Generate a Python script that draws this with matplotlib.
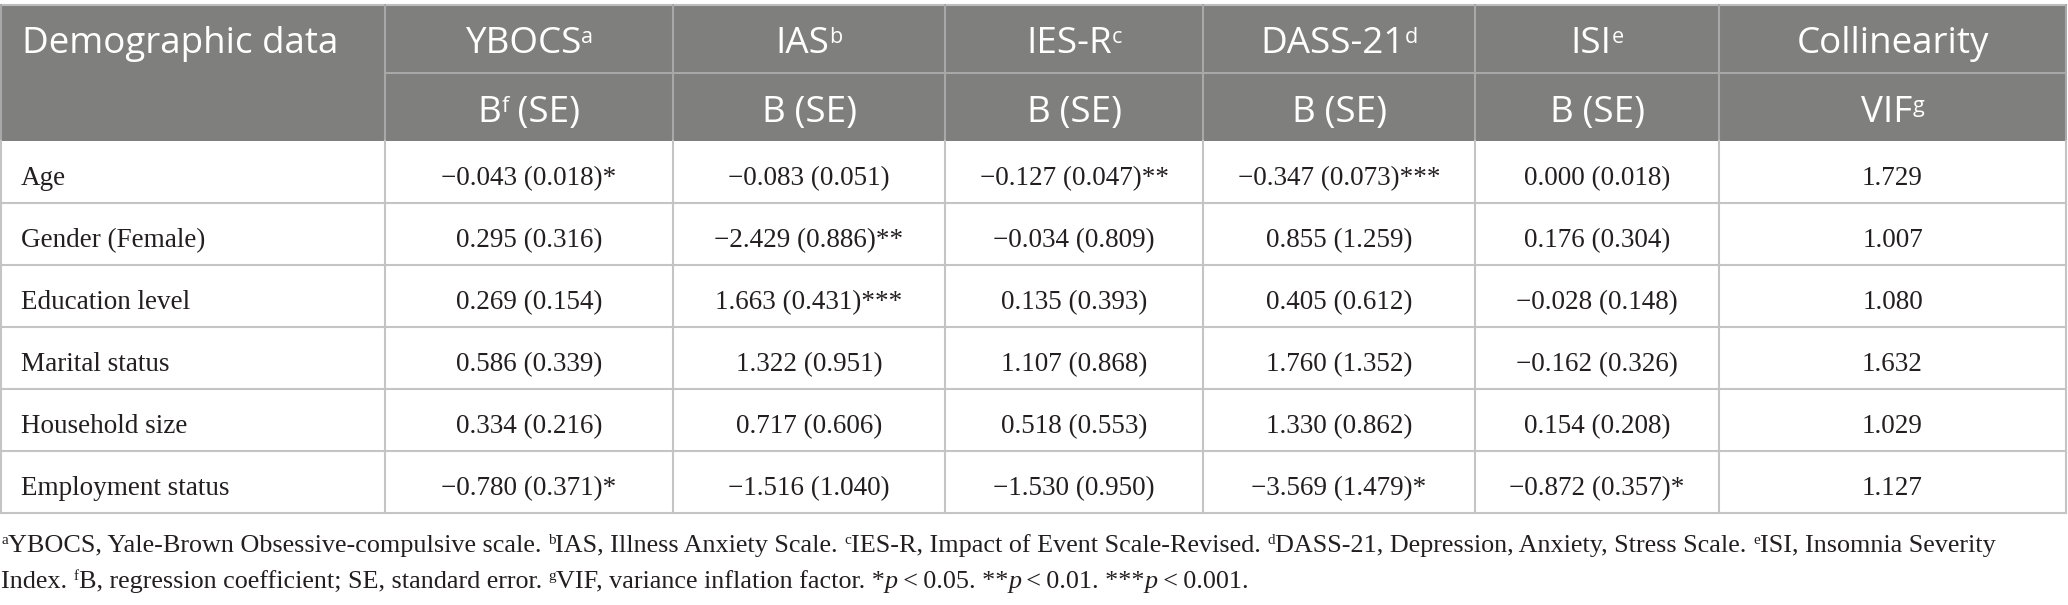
import matplotlib
matplotlib.use("Agg")
import matplotlib.pyplot as plt
from matplotlib.patches import Rectangle
from matplotlib.font_manager import FontProperties

# table content
scales = ["YBOCS", "IAS", "IES-R", "DASS-21", "ISI", "Collinearity"]
scale_sups = ["a", "b", "c", "d", "e", ""]
stat_names = ["B", "B", "B", "B", "B", "VIF"]
stat_sups = ["f", "", "", "", "", "g"]
stat_tails = [" (SE)", " (SE)", " (SE)", " (SE)", " (SE)", ""]

variables = ["Age", "Gender (Female)", "Education level", "Marital status",
             "Household size", "Employment status"]

ybocs_b = [-0.043, 0.295, 0.269, 0.586, 0.334, -0.780]
ybocs_se = [0.018, 0.316, 0.154, 0.339, 0.216, 0.371]
ybocs_sig = ["*", "", "", "", "", "*"]
ias_b = [-0.083, -2.429, 1.663, 1.322, 0.717, -1.516]
ias_se = [0.051, 0.886, 0.431, 0.951, 0.606, 1.040]
ias_sig = ["", "**", "***", "", "", ""]
iesr_b = [-0.127, -0.034, 0.135, 1.107, 0.518, -1.530]
iesr_se = [0.047, 0.809, 0.393, 0.868, 0.553, 0.950]
iesr_sig = ["**", "", "", "", "", ""]
dass_b = [-0.347, 0.855, 0.405, 1.760, 1.330, -3.569]
dass_se = [0.073, 1.259, 0.612, 1.352, 0.862, 1.479]
dass_sig = ["***", "", "", "", "", "*"]
isi_b = [0.000, 0.176, -0.028, -0.162, 0.154, -0.872]
isi_se = [0.018, 0.304, 0.148, 0.326, 0.208, 0.357]
isi_sig = ["", "", "", "", "", "*"]
vif = [1.729, 1.007, 1.080, 1.632, 1.029, 1.127]

# layout (pixels)
col_x = [1, 385, 673, 945, 1203, 1475, 1719, 2066]
top = 4.5
head_mid = 72.5
head_bot = 141
row_h = 62

head_bg = "#7f7f7e"
head_line = "#a8a8a8"
grid_col = "#c4c4c4"
ink = "#231f20"

sans = FontProperties(family="Open Sans", size=26.5)
sans_sup = FontProperties(family="Open Sans", size=15.5)
serif = FontProperties(family="Liberation Serif", size=19.5)
foot = FontProperties(family="Liberation Serif", size=18.8)
foot_sup = FontProperties(family="Liberation Serif", size=11)
foot_it = FontProperties(family="Liberation Serif", size=18.8, style="italic")

fig = plt.figure(figsize=(20.68, 6.05), dpi=100)
ax = fig.add_axes([0, 0, 1, 1])
ax.set_xlim(0, 2068)
ax.set_ylim(605, 0)
ax.axis("off")
renderer = fig.canvas.get_renderer()


def width(s, fp):
    t = ax.text(0, 0, "|" + s + "|", fontproperties=fp)
    w1 = t.get_window_extent(renderer).width
    t.set_text("||")
    w2 = t.get_window_extent(renderer).width
    t.remove()
    return w1 - w2


def runs(x, y, parts, ha="left", color=ink):
    # parts: (text, fontprops, raise)
    ws = [width(p[0], p[1]) for p in parts]
    total = sum(ws)
    if ha == "center":
        x = x - total / 2
    for (s, fp, r), w in zip(parts, ws):
        ax.text(x, y - r, s, fontproperties=fp, color=color, ha="left", va="baseline")
        x += w


def fmt(v):
    return f"{v:.3f}".replace("-", "\u2212")


# header
ax.add_patch(Rectangle((col_x[0], top), col_x[-1] - col_x[0], head_bot - top,
                       facecolor=head_bg, edgecolor="none", zorder=0))
ax.plot([col_x[0], col_x[-1]], [top, top], color="#bdbdbd", lw=1.5)
ax.plot([col_x[1], col_x[-1]], [head_mid, head_mid], color=head_line, lw=1.5)
for x in col_x:
    ax.plot([x, x], [top, head_bot], color=head_line, lw=1.5)

runs(22, 53, [("Demographic data", sans, 0)], color="white")
for i in range(6):
    cx = (col_x[i + 1] + col_x[i + 2]) / 2
    runs(cx, 53, [(scales[i], sans, 0), (scale_sups[i], sans_sup, 10)], ha="center", color="white")
    runs(cx, 122, [(stat_names[i], sans, 0), (stat_sups[i], sans_sup, 10),
                   (stat_tails[i], sans, 0)], ha="center", color="white")

# body
cols = [(ybocs_b, ybocs_se, ybocs_sig), (ias_b, ias_se, ias_sig),
        (iesr_b, iesr_se, iesr_sig), (dass_b, dass_se, dass_sig),
        (isi_b, isi_se, isi_sig)]
for r, name in enumerate(variables):
    y0 = head_bot + r * row_h
    base = y0 + 44
    runs(21, base, [(name, serif, 0)])
    for c, (b, se, sig) in enumerate(cols):
        cx = (col_x[c + 1] + col_x[c + 2]) / 2
        runs(cx, base, [(f"{fmt(b[r])} ({fmt(se[r])}){sig[r]}", serif, 0)], ha="center")
    cx = (col_x[6] + col_x[7]) / 2
    runs(cx, base, [(f"{vif[r]:.3f}", serif, 0)], ha="center")
    ax.plot([col_x[0], col_x[-1]], [y0 + row_h, y0 + row_h], color=grid_col, lw=1.5)
body_bot = head_bot + len(variables) * row_h
for x in col_x:
    ax.plot([x, x], [head_bot, body_bot], color=grid_col, lw=1.5)

# footnotes
line1 = [("a", foot_sup, 8), ("YBOCS, Yale-Brown Obsessive-compulsive scale. ", foot, 0),
         ("b", foot_sup, 8), ("IAS, Illness Anxiety Scale. ", foot, 0),
         ("c", foot_sup, 8), ("IES-R, Impact of Event Scale-Revised. ", foot, 0),
         ("d", foot_sup, 8), ("DASS-21, Depression, Anxiety, Stress Scale. ", foot, 0),
         ("e", foot_sup, 8), ("ISI, Insomnia Severity", foot, 0)]
line2 = [("Index. ", foot, 0), ("f", foot_sup, 8),
         ("B, regression coefficient; SE, standard error. ", foot, 0),
         ("g", foot_sup, 8), ("VIF, variance inflation factor. *", foot, 0),
         ("p", foot_it, 0), ("\u2009<\u20090.05. **", foot, 0),
         ("p", foot_it, 0), ("\u2009<\u20090.01. ***", foot, 0),
         ("p", foot_it, 0), ("\u2009<\u20090.001.", foot, 0)]
runs(1, 552, line1)
runs(1, 588, line2)

fig.savefig("out.png", dpi=100)
